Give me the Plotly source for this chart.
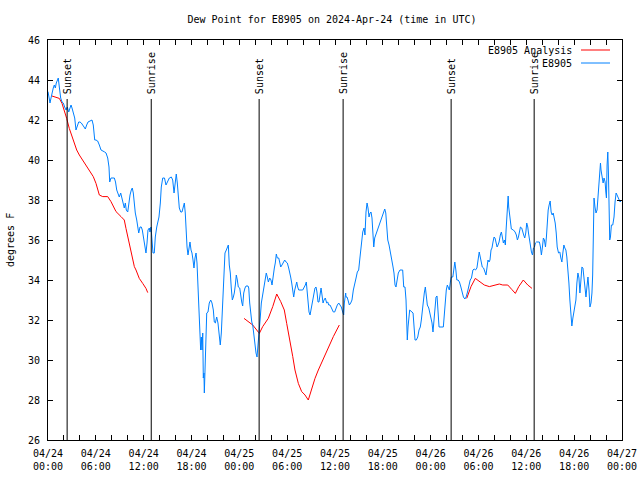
import pandas as pd
import plotly.graph_objects as go

# ---------------- data ----------------
base_time = "2024-04-24 00:00"

obs_hours = [0.0, 0.09, 0.25, 0.38, 0.50, 0.66, 0.79, 0.92, 1.04, 1.29, 1.42, 1.59, 1.76, 1.92, 2.09, 2.26, 2.42, 2.60, 2.76, 2.89,
             3.01, 3.17, 3.35, 3.51, 3.68, 3.85, 4.01, 4.18, 4.52, 4.68, 4.85, 5.02, 5.27, 5.52, 5.68, 5.86, 6.02, 6.23, 6.44, 6.65,
             7.11, 7.28, 7.49, 7.65, 7.74, 7.90, 8.32, 8.47, 8.62, 8.78, 8.94, 9.12, 9.28, 9.41, 9.57, 9.70, 9.82, 10.0, 10.12, 10.29,
             10.45, 10.57, 10.70, 10.83, 10.95, 11.13, 11.25, 11.38, 11.54, 11.70, 11.83, 11.95, 12.08, 12.21, 12.29, 12.42, 12.54, 12.71, 12.79, 12.92,
             13.05, 13.17, 13.33, 13.46, 13.64, 13.80, 13.92, 14.09, 14.21, 14.39, 14.61, 14.80, 15.02, 15.22, 15.47, 15.64, 15.81, 15.97, 16.09, 16.22,
             16.35, 16.47, 16.65, 16.81, 16.97, 17.10, 17.22, 17.31, 17.44, 17.56, 17.69, 17.81, 17.94, 18.06, 18.19, 18.31, 18.44, 18.57, 18.69, 18.78,
             18.90, 19.03, 19.15, 19.23, 19.32, 19.41, 19.48, 19.56, 19.61, 19.69, 19.78, 19.91, 20.07, 20.23, 20.41, 20.57, 20.74, 20.86, 20.99, 21.16,
             21.32, 21.49, 21.61, 21.74, 21.86, 21.95, 22.08, 22.20, 22.37, 22.49, 22.62, 22.74, 22.87, 22.99, 23.12, 23.25, 23.37, 23.50, 23.62, 23.75,
             23.87, 24.05, 24.17, 24.30, 24.42, 24.55, 24.71, 24.84, 25.09, 25.18, 25.30, 25.43, 25.56, 25.68, 25.81, 25.93, 26.09, 26.22, 26.34, 26.43,
             26.51, 26.63, 26.76, 26.88, 27.06, 27.22, 27.38, 27.51, 27.64, 27.81, 27.97, 28.10, 28.22, 28.39, 28.51, 28.64, 28.76, 28.94, 29.06, 29.19,
             29.35, 29.52, 29.69, 29.86, 30.02, 30.19, 30.32, 30.44, 30.57, 30.70, 30.82, 30.95, 31.07, 31.20, 31.32, 31.45, 31.95, 32.11, 32.28, 32.40,
             32.53, 32.61, 32.74, 32.87, 32.99, 33.12, 33.24, 33.37, 33.49, 33.62, 33.74, 33.87, 33.99, 34.12, 34.25, 34.37, 34.50, 34.62, 34.78, 34.96,
             35.09, 35.21, 35.37, 35.50, 35.62, 35.79, 35.96, 36.13, 36.29, 36.47, 36.63, 36.79, 36.97, 37.09, 37.17, 37.26, 37.34, 37.38, 37.51, 37.63,
             37.80, 37.97, 38.13, 38.30, 38.47, 38.64, 38.80, 38.97, 39.14, 39.30, 39.48, 39.64, 39.76, 39.89, 40.02, 40.14, 40.27, 40.39, 40.52, 40.64,
             40.77, 40.86, 40.98, 41.11, 41.24, 41.40, 41.56, 41.74, 41.90, 42.07, 42.24, 42.37, 42.49, 42.62, 42.78, 42.90, 43.03, 43.15, 43.28, 43.40,
             43.53, 43.65, 43.78, 43.94, 44.15, 44.49, 44.62, 44.78, 44.91, 45.00, 45.07, 45.16, 45.25, 45.37, 45.79, 45.91, 46.04, 46.20, 46.38, 46.54,
             46.70, 46.83, 46.95, 47.08, 47.20, 47.33, 47.45, 47.58, 47.76, 47.92, 48.04, 48.17, 48.29, 48.42, 48.55, 48.67, 48.80, 48.92, 49.05, 49.59,
             49.71, 49.84, 49.96, 50.09, 50.22, 50.34, 50.47, 50.59, 50.78, 50.90, 51.03, 51.16, 51.28, 51.45, 51.61, 51.79, 51.95, 52.11, 52.29, 52.45,
             52.62, 52.79, 52.96, 53.12, 53.30, 53.46, 53.62, 53.80, 53.97, 54.09, 54.22, 54.35, 54.47, 54.64, 54.81, 54.94, 55.06, 55.19, 55.32, 55.44,
             55.57, 55.69, 55.82, 55.95, 56.07, 56.20, 56.33, 56.45, 56.58, 56.74, 56.87, 56.99, 57.12, 57.25, 57.37, 57.46, 57.54, 57.63, 57.72, 57.79,
             57.87, 58.00, 58.12, 58.38, 58.59, 58.75, 58.88, 59.01, 59.13, 59.26, 59.42, 59.55, 59.67, 59.80, 59.93, 60.05, 60.18, 60.27, 60.39, 60.52,
             60.64, 60.77, 60.89, 61.02, 61.14, 61.27, 61.64, 61.77, 61.89, 62.02, 62.14, 62.27, 62.40, 62.52, 62.61, 62.74, 62.86, 62.99, 63.11, 63.24,
             63.37, 63.49, 63.62, 63.75, 63.87, 64.04, 64.20, 64.33, 64.46, 64.58, 64.71, 64.83, 64.96, 65.08, 65.21, 65.34, 65.46, 65.59, 65.71, 65.84,
             65.97, 66.09, 66.22, 66.34, 66.47, 66.60, 66.72, 66.85, 66.97, 67.10, 67.23, 67.35, 67.48, 67.60, 67.73, 67.86, 67.98, 68.11, 68.23, 68.32,
             68.41, 68.49, 68.61, 68.74, 68.87, 68.99, 69.12, 69.21, 69.30, 69.37, 69.50, 69.63, 69.75, 69.88, 69.97, 70.05, 70.13, 70.22, 70.30, 70.38,
             70.46, 70.55, 70.67, 70.84, 71.00, 71.13, 71.26, 71.38, 71.51, 71.64, 71.76, 71.97]

obs_dewpoint = [43.42, 43.25, 42.85, 43.1, 43.35, 43.6, 43.75, 43.6, 43.85, 44.1, 43.65, 43.1, 42.9, 42.85, 42.65, 42.5, 42.65, 42.4, 42.6, 42.75,
                42.6, 42.4, 42.1, 41.5, 41.75, 41.9, 41.9, 41.85, 41.65, 41.55, 41.75, 41.9, 41.95, 42.0, 41.75, 41.0, 41.0, 40.95, 40.75, 40.5,
                40.4, 40.35, 40.1, 39.65, 38.9, 39.1, 39.1, 38.9, 38.5, 38.35, 38.15, 38.35, 38.1, 37.75, 37.6, 37.85, 37.5, 37.4, 37.85, 38.25,
                38.5, 38.6, 38.35, 37.65, 37.35, 37.0, 36.6, 36.35, 36.65, 36.65, 36.5, 36.15, 36.0, 35.6, 35.35, 35.85, 36.5, 36.6, 36.4, 36.65,
                35.65, 35.35, 35.35, 36.15, 36.65, 37.0, 37.15, 37.85, 38.65, 39.1, 39.1, 38.75, 38.95, 39.1, 39.15, 39.0, 38.35, 39.0, 39.3, 38.85,
                38.1, 37.6, 37.4, 37.4, 37.65, 37.85, 37.35, 36.35, 35.65, 35.25, 35.65, 35.9, 35.5, 35.35, 35.0, 34.6, 35.1, 35.35, 34.85, 34.1,
                32.85, 31.35, 30.5, 31.15, 30.5, 31.35, 29.1, 29.35, 28.35, 29.35, 31.35, 32.35, 32.4, 32.85, 33.0, 32.85, 32.5, 31.9, 31.85, 32.15,
                31.85, 31.35, 30.75, 31.35, 32.35, 33.6, 34.85, 35.35, 35.5, 35.65, 35.75, 34.75, 34.35, 33.6, 33.0, 33.15, 33.35, 33.75, 34.25, 34.0,
                33.65, 33.6, 33.15, 32.9, 32.7, 33.35, 33.6, 33.7, 33.7, 33.6, 32.85, 32.35, 31.9, 31.75, 31.35, 30.75, 30.35, 30.15, 30.65, 31.0,
                31.35, 32.15, 32.85, 33.15, 33.5, 34.0, 34.35, 34.15, 33.9, 34.1, 34.0, 33.75, 34.25, 34.6, 34.85, 35.3, 35.1, 35.1, 34.9, 34.65,
                34.75, 34.85, 35.0, 34.9, 34.85, 34.6, 34.4, 34.15, 33.85, 33.35, 33.15, 33.5, 33.75, 33.9, 33.65, 33.5, 33.5, 33.6, 33.75, 33.9,
                33.35, 32.85, 32.4, 32.25, 32.5, 32.75, 33.0, 33.35, 33.6, 33.65, 33.4, 32.9, 32.9, 33.25, 33.6, 33.25, 32.85, 33.0, 33.1, 32.85,
                32.9, 32.75, 32.75, 32.65, 32.5, 32.4, 32.4, 32.6, 32.75, 32.85, 32.75, 32.65, 32.4, 32.25, 32.85, 33.35, 33.35, 33.15, 33.15, 33.0,
                32.75, 32.85, 33.0, 33.5, 33.75, 34.1, 34.4, 34.5, 35.15, 35.85, 36.4, 36.6, 36.25, 37.4, 37.85, 37.6, 37.15, 37.35, 37.4, 37.1,
                36.15, 35.65, 36.1, 36.25, 36.4, 36.6, 36.85, 37.0, 37.15, 37.35, 37.55, 37.35, 36.85, 36.0, 35.75, 35.5, 35.35, 35.1, 34.65, 34.35,
                33.75, 33.65, 34.0, 34.35, 34.5, 34.5, 33.65, 33.65, 33.0, 31.85, 31.0, 31.65, 32.15, 32.5, 32.35, 31.85, 31.0, 31.0, 31.15, 31.5,
                31.65, 32.0, 32.5, 32.85, 33.35, 33.65, 33.15, 32.75, 32.6, 32.35, 32.15, 31.85, 31.4, 32.0, 32.9, 33.15, 33.2, 32.5, 31.65, 31.65,
                32.35, 32.85, 33.5, 33.75, 33.6, 33.5, 33.9, 34.15, 34.15, 34.5, 34.9, 34.5, 34.0, 34.0, 33.9, 33.65, 33.4, 33.15, 33.05, 33.15,
                33.4, 33.75, 34.0, 34.1, 34.5, 34.55, 34.5, 34.6, 35.0, 35.4, 35.15, 34.85, 34.65, 34.6, 34.4, 34.25, 34.6, 35.0, 34.9, 35.0,
                35.5, 35.6, 35.9, 36.15, 36.1, 35.85, 35.65, 35.75, 35.9, 36.25, 36.4, 36.15, 35.85, 36.0, 35.75, 36.5, 37.0, 37.75, 38.2, 37.65,
                37.4, 37.0, 36.55, 36.5, 36.4, 36.25, 36.0, 36.15, 36.5, 36.65, 36.6, 36.35, 36.25, 36.1, 36.35, 36.85, 36.65, 36.35, 36.0, 35.6,
                35.4, 35.25, 35.6, 35.65, 35.85, 35.9, 35.9, 35.65, 35.25, 35.65, 36.1, 36.0, 35.65, 36.15, 36.85, 37.5, 37.75, 37.95, 37.4, 37.25,
                37.35, 37.1, 36.85, 36.35, 35.65, 35.35, 35.4, 35.1, 34.9, 35.35, 35.75, 35.6, 35.5, 35.15, 34.6, 33.85, 33.0, 32.15, 31.7, 32.1,
                32.5, 32.6, 33.0, 33.85, 34.35, 34.1, 33.35, 34.0, 34.65, 34.6, 34.0, 33.5, 33.15, 33.65, 34.15, 33.5, 32.65, 32.85, 33.35, 34.25,
                36.85, 38.1, 37.65, 37.35, 37.5, 38.15, 38.65, 39.35, 39.85, 39.5, 39.15, 38.85, 39.1, 38.9, 38.4, 38.1, 39.75, 40.4, 39.35, 37.0,
                36.0, 36.15, 36.75, 36.75, 37.15, 37.9, 38.35, 38.25, 38.1, 38.0, 37.9, 38.0]

analysis_hours = [0.50, 1.42, 1.76, 2.05, 2.34, 2.67, 3.01, 3.30, 3.60, 3.93, 4.35, 4.77, 5.10, 5.39, 5.68, 6.02, 6.23, 6.44, 6.86, 7.49,
                  7.90, 8.11, 8.53, 9.16, 9.57, 9.78, 10.0, 10.20, 10.41, 10.62, 10.83, 11.04, 11.45, 11.88, 12.29, 12.51, None,
                  24.59, 25.13, 25.68, 26.18, 26.51, 26.93, 27.63, 28.19, 28.69, 29.19, 29.64, 29.94, 30.36, 30.70, 30.98, 31.40, 31.82, 32.24,
                  32.65, 33.08, 33.49, 33.91, 34.53, 35.16, 35.79, 36.54, None,
                  52.52, 53.06, 53.60, 54.10, 54.73, 55.36, 55.98, 56.61, 57.04, 57.67, 58.17, 58.62, 59.05, 59.62, 60.18, 60.71]

analysis_dewpoint = [43.2, 43.08, 42.83, 42.5, 42.08, 41.58, 41.17, 40.75, 40.5, 40.25, 40.0, 39.75, 39.5, 39.33, 39.17, 38.83, 38.5, 38.25, 38.17, 38.17,
                     37.92, 37.75, 37.42, 37.17, 37.0, 36.58, 36.17, 35.83, 35.42, 34.92, 34.67, 34.5, 34.08, 33.83, 33.58, 33.37, None,
                     32.08, 31.92, 31.75, 31.5, 31.33, 31.67, 32.08, 32.67, 33.3, 32.92, 32.5, 31.83, 31.0, 30.17, 29.5, 28.83, 28.42, 28.25,
                     28.0, 28.58, 29.08, 29.5, 30.08, 30.58, 31.17, 31.75, None,
                     33.08, 33.67, 34.08, 33.92, 33.75, 33.67, 33.75, 33.8, 33.75, 33.75, 33.53, 33.33, 33.67, 34.0, 33.75, 33.58]

sun_event_times = ["2024-04-24 02:24", "2024-04-24 12:57", "2024-04-25 02:29",
                   "2024-04-25 13:01", "2024-04-26 02:34", "2024-04-26 12:59"]
sun_event_labels = ["Sunset", "Sunrise", "Sunset", "Sunrise", "Sunset", "Sunrise"]

series_names = ["E8905 Analysis", "E8905"]
title_text = "Dew Point for E8905 on 2024-Apr-24 (time in UTC)"
y_title = "degrees F"

# ---------------- build ----------------
t0 = pd.Timestamp(base_time)


def to_times(hours):
    return [None if h is None else t0 + pd.Timedelta(hours=h) for h in hours]


FONT = "DejaVu Sans Mono"
BLUE = "#0080ff"
RED = "#ff0000"

FIG_W, FIG_H = 640, 480
M_L, M_R, M_T, M_B = 48, 18, 40, 40
PW, PH = FIG_W - M_L - M_R, FIG_H - M_T - M_B  # 574 x 400

fig = go.Figure()
fig.add_trace(go.Scatter(x=to_times(analysis_hours), y=analysis_dewpoint, mode="lines",
                         line=dict(color=RED, width=1), name=series_names[0],
                         connectgaps=False, showlegend=False))
fig.add_trace(go.Scatter(x=to_times(obs_hours), y=obs_dewpoint, mode="lines",
                         line=dict(color=BLUE, width=1), name=series_names[1],
                         showlegend=False))

line_top = 43.05
for t, lab in zip(sun_event_times, sun_event_labels):
    fig.add_shape(type="line", xref="x", yref="y", x0=t, x1=t, y0=26, y1=line_top,
                  line=dict(color="black", width=1))
    fig.add_annotation(x=t, y=43.4, xref="x", yref="y", text=lab, textangle=-90,
                       showarrow=False, xanchor="center", yanchor="bottom",
                       xshift=0, yshift=-4, font=dict(family=FONT, size=10, color="black"))

# gnuplot-style legend (text right, sample line on the right)
legend_rows = [(series_names[0], RED, 1 - 10 / PH),
               (series_names[1], BLUE, 1 - 23 / PH)]
for name, col, yp in legend_rows:
    fig.add_annotation(x=(574 - 48) / PW, y=yp, xref="paper", yref="paper", text=name,
                       showarrow=False, xanchor="right", yanchor="middle",
                       font=dict(family=FONT, size=10, color="black"))
    fig.add_shape(type="line", xref="paper", yref="paper",
                  x0=(581 - 48) / PW, x1=(610 - 48) / PW, y0=yp, y1=yp,
                  line=dict(color=col, width=1))

fig.add_annotation(x=(10 - 48) / PW, y=0.5, xref="paper", yref="paper", text=y_title,
                   textangle=-90, showarrow=False, xanchor="center", yanchor="middle",
                   font=dict(family=FONT, size=10, color="black"))

fig.update_layout(
    width=FIG_W, height=FIG_H,
    margin=dict(l=M_L, r=M_R, t=M_T, b=M_B, autoexpand=False),
    paper_bgcolor="white", plot_bgcolor="white",
    font=dict(family=FONT, size=10, color="black"),
    title=dict(text=title_text, x=(332 - 48) / PW, xref="paper", xanchor="center",
               y=1 - 19 / FIG_H, yref="container", yanchor="middle",
               font=dict(family=FONT, size=10, color="black")),
    showlegend=False,
)

fig.update_xaxes(
    type="date",
    range=["2024-04-24 00:00", "2024-04-27 00:00"],
    tick0="2024-04-24 00:00", dtick=6 * 3600 * 1000,
    tickformat="%m/%d<br>%H:%M",
    ticks="inside", ticklen=5, tickcolor="black",
    ticklabelstandoff=4,
    minor=dict(dtick=2 * 3600 * 1000, ticks="inside", ticklen=5, tickcolor="black"),
    showline=True, linecolor="black", linewidth=1, mirror="ticks",
    showgrid=False, zeroline=False, automargin=False,
    tickfont=dict(family=FONT, size=10, color="black"),
)
fig.update_yaxes(
    range=[26, 46], dtick=2, tick0=26,
    ticks="inside", ticklen=5, tickcolor="black",
    ticklabelstandoff=5,
    showline=True, linecolor="black", linewidth=1, mirror="ticks",
    showgrid=False, zeroline=False, automargin=False,
    tickfont=dict(family=FONT, size=10, color="black"),
)

fig.write_html(
    "out.html",
    config={"displayModeBar": False, "staticPlot": True},
    post_script="document.body.style.margin='0';document.body.style.overflow='hidden';",
)
